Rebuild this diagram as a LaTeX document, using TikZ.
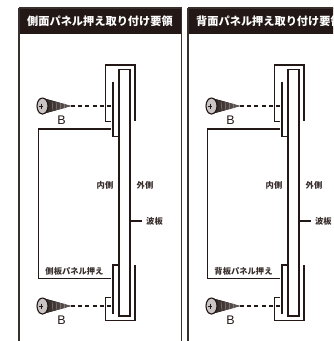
\documentclass[tikz,border=0pt]{standalone}
\usepackage{fontspec}
\setmainfont{Liberation Sans}
\newfontfamily\cjk{Noto Sans CJK JP}
\definecolor{ink}{HTML}{231815}
\begin{document}
\begin{tikzpicture}[x=1pt,y=-1pt]
  \tikzstyle{frame} = [draw=ink!90, line width = 1.3pt]
  \tikzstyle{part} = [draw=ink, line width = 1.4pt, line cap=butt]
  \tikzstyle{dashline} = [draw=ink, line width = 1.4pt, dash pattern=on 4pt off 3.2pt]
  \tikzstyle{header} = [fill=ink, draw=none]
  \tikzstyle{title} = [text=white, font=\cjk\bfseries\fontsize{11.2}{12}\selectfont, inner sep=0pt, anchor=west]
  \tikzstyle{label} = [text=ink!90, font=\cjk\bfseries\fontsize{8.3}{9}\selectfont, inner sep=0pt]
  \tikzstyle{letter} = [text=ink, font=\fontsize{12.5}{13}\selectfont, inner sep=0pt]

  \useasboundingbox (0,0) rectangle (333,341);
  \clip (0,0) rectangle (333,341);

  \foreach \dx/\titletext/\parttext in {0/側面パネル押え取り付け要領/側板パネル押え, 169/背面パネル押え取り付け要領/背板パネル押え} {
    \begin{scope}[xshift=\dx pt]
      % panel
      \fill[header] (19,8) rectangle (182,33.5);
      \draw[frame] (19,341) -- (19,8);
      \draw[frame] (19,8) -- (182,8);
      \draw[frame] (181.7,8) -- (181.7,341);
      \node[title] at (27,21.5) (head) {\titletext};

      % top fitting
      \draw[part] (111,121.7) -- (105.3,121.7) -- (105.3,65) -- (135,65) -- (135,120.7);
      \draw[part] (112.8,81.7) -- (112.8,136.7) -- (119,136.7);
      % bottom fitting
      \draw[part] (111,297.3) -- (105.3,297.3) -- (105.3,320.7) -- (135,320.7) -- (135,265);
      \draw[part] (113,314) -- (113,265) -- (119,265);
      % plate
      \draw[part] (119,130) -- (119,69.5) -- (130,69.5) -- (130,316) -- (119,316) -- (119,130);
      % side panel
      \draw[part] (111,129) -- (38.3,129) -- (38.3,278.3) -- (111,278.3);

      % labels
      \node[label] at (105,185) (inner) {内側};
      \node[label] at (145,185) (outer) {外側};
      \coordinate (platefoot) at (130,221);
      \node[label, anchor=west, inner xsep=4.5pt] at (141.5,221) (plate) {波板};
      \draw[part] (platefoot) to (plate);
      \node[label] at (74.5,271) (holder) {\parttext};

      % screws
      \foreach \y/\name in {106/upper, 306/lower} {
        \coordinate (\name tip) at (71,\y);
        \coordinate (\name end) at (111,\y);
        \fill[left color=ink!95, right color=ink!70] (44,\y-7.5) .. controls (52,\y-5.5) and (62,\y-2.5) .. (\name tip) .. controls (62,\y+2.5) and (52,\y+5.5) .. (44,\y+7.5) -- cycle;
        \foreach \t in {52,56,60,64}
          \draw[ink!35, line width=0.3pt] (\t,\y-4) -- (\t+1,\y+4);
        \draw[ink, line width=1.1pt, fill=ink!25] (42.5,\y) ellipse (5.5 and 8);
        \draw[ink, line width=0.8pt] (41,\y-2.4) -- (41,\y+2.6) (38.6,\y+.1) -- (43.4,\y+.1);
        \draw[dashline] (\name tip) -- (\name end);
      }
      \node[letter] at (61.5,120.5) (upperb) {B};
      \node[letter] at (61.5,320) (lowerb) {B};
    \end{scope}
  }
\end{tikzpicture}
\end{document}
